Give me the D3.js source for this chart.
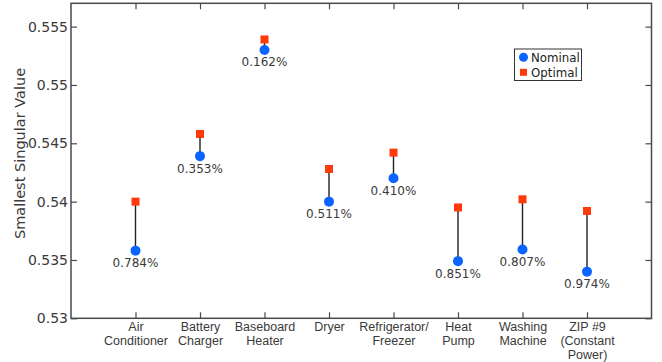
<!DOCTYPE html>
<html>
<head>
<meta charset="utf-8">
<script src="https://cdn.jsdelivr.net/npm/d3@7"></script>
<style>
  html, body { margin: 0; padding: 0; background: #fff; }
  svg { display: block; font-family: "DejaVu Sans", Verdana, sans-serif; }
</style>
</head>
<body>
<svg id="chart" width="662" height="362"></svg>
<script>
// Appliance categories (line breaks split the tick labels)
const categories = [
  "Air\nConditioner", "Battery\nCharger", "Baseboard\nHeater", "Dryer",
  "Refrigerator/\nFreezer", "Heat\nPump", "Washing\nMachine", "ZIP #9\n(Constant\nPower)"
];
// Smallest singular value, nominal vs. optimal parameters
const nominal = [0.5358, 0.5439, 0.5530, 0.5400, 0.5420, 0.5349, 0.5359, 0.5340];
const optimal = [0.5400, 0.5458, 0.5539, 0.5428, 0.5442, 0.5395, 0.5402, 0.5392];
// Relative improvement labels
const gains = ["0.784%", "0.353%", "0.162%", "0.511%", "0.410%", "0.851%", "0.807%", "0.974%"];
const yTicks = [0.53, 0.535, 0.54, 0.545, 0.55, 0.555];
const yTickLabels = ["0.53", "0.535", "0.54", "0.545", "0.55", "0.555"];

const svg = d3.select("#chart");
const L = 71, R = 651.5, T = 3.3, B = 318.3;
const axisColor = "#4a4a4a", textColor = "#3a3a3a";
const blue = "#0a64ff", red = "#ff3a0a";

const x = d3.scalePoint().domain(categories).range([L, R]).padding(1);
const y = d3.scaleLinear().domain([0.53, 0.557]).range([B, T]);

// Inward ticks on all four sides
const gL = svg.append("g").attr("transform", `translate(${L},0)`)
  .call(d3.axisLeft(y).tickValues(yTicks).tickSizeInner(-6).tickSizeOuter(0).tickPadding(3)
    .tickFormat((d, i) => yTickLabels[i]));
const gR = svg.append("g").attr("transform", `translate(${R},0)`)
  .call(d3.axisRight(y).tickValues(yTicks).tickSizeInner(-6).tickSizeOuter(0).tickFormat(""));
const gB = svg.append("g").attr("transform", `translate(0,${B})`)
  .call(d3.axisBottom(x).tickSizeInner(-6).tickSizeOuter(0).tickFormat(""));
const gT = svg.append("g").attr("transform", `translate(0,${T})`)
  .call(d3.axisTop(x).tickSizeInner(-6).tickSizeOuter(0).tickFormat(""));

[gL, gR, gB, gT].forEach(g => {
  g.select(".domain").remove();
  g.selectAll(".tick line").attr("stroke", axisColor).attr("stroke-width", 1.2);
});
gL.selectAll(".tick text")
  .attr("fill", textColor)
  .style("font-size", "14px")
  .style("font-family", "DejaVu Sans, sans-serif");

// Box
svg.append("rect")
  .attr("x", L).attr("y", T).attr("width", R - L).attr("height", B - T)
  .attr("fill", "none").attr("stroke", axisColor).attr("stroke-width", 1.5);

// Multi-line category labels
gB.selectAll(".tick").each(function(d) {
  const t = d3.select(this).append("text")
    .attr("fill", textColor)
    .attr("text-anchor", "middle")
    .style("font-size", "12.5px");
  d.split("\n").forEach((line, i) => {
    t.append("tspan").attr("x", 0).attr("y", 12.8 + i * 14).text(line);
  });
});

// Y axis title
svg.append("text")
  .attr("transform", `translate(25,153.5) rotate(-90)`)
  .attr("text-anchor", "middle")
  .attr("fill", textColor)
  .style("font-size", "14.5px")
  .text("Smallest Singular Value");

// Stems, markers and labels
const rows = categories.map((c, i) => ({ c, nom: nominal[i], opt: optimal[i], gain: gains[i] }));
const g = svg.append("g");
g.selectAll("line.stem").data(rows).join("line")
  .attr("class", "stem")
  .attr("x1", d => x(d.c)).attr("x2", d => x(d.c))
  .attr("y1", d => y(d.nom)).attr("y2", d => y(d.opt))
  .attr("stroke", "#222").attr("stroke-width", 1.4);
g.selectAll("rect.opt").data(rows).join("rect")
  .attr("class", "opt")
  .attr("x", d => x(d.c) - 4).attr("y", d => y(d.opt) - 4)
  .attr("width", 8).attr("height", 8)
  .attr("fill", red);
g.selectAll("circle.nom").data(rows).join("circle")
  .attr("class", "nom")
  .attr("cx", d => x(d.c)).attr("cy", d => y(d.nom)).attr("r", 5)
  .attr("fill", blue);
g.selectAll("text.gain").data(rows).join("text")
  .attr("class", "gain")
  .attr("x", d => x(d.c)).attr("y", d => y(d.nom) + 16.5)
  .attr("text-anchor", "middle")
  .attr("fill", textColor)
  .style("font-size", "12px")
  .text(d => d.gain);

// Legend
const lg = svg.append("g").attr("transform", "translate(514.5,49)");
lg.append("rect").attr("width", 67).attr("height", 31.5)
  .attr("fill", "#fff").attr("stroke", "#333").attr("stroke-width", 1);
lg.append("circle").attr("cx", 9).attr("cy", 8.3).attr("r", 4.5).attr("fill", blue);
lg.append("rect").attr("x", 5.5).attr("y", 19.8).attr("width", 7).attr("height", 7).attr("fill", red);
lg.append("text").attr("x", 16.5).attr("y", 12.6).attr("fill", "#222")
  .style("font-size", "11.8px").text("Nominal");
lg.append("text").attr("x", 16.5).attr("y", 27.6).attr("fill", "#222")
  .style("font-size", "11.8px").text("Optimal");
</script>
</body>
</html>
